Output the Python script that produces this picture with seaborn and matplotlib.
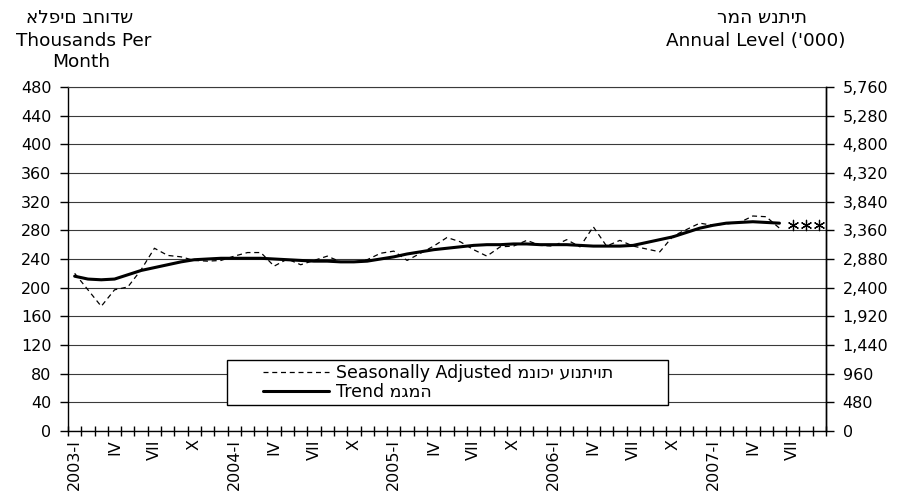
import numpy as np
import pandas as pd
import matplotlib
matplotlib.use("Agg")
import matplotlib.pyplot as plt
from matplotlib.legend_handler import HandlerLine2D
import seaborn as sns

# monthly data, Jan 2003 - Sep 2007 (thousands per month)
seasonally_adjusted = [220, 197, 174, 197, 201, 225, 255, 245, 243, 238,
                       237, 238, 244, 249, 249, 230, 240, 232, 238, 244,
                       236, 236, 239, 248, 251, 238, 248, 258, 270, 264,
                       253, 244, 257, 258, 266, 259, 258, 267, 257, 285,
                       258, 266, 258, 254, 250, 272, 281, 290, 287, 289,
                       291, 300, 299, 283]
trend = [216, 212, 211, 212, 218, 224, 228, 232, 236, 239,
         240, 241, 241, 241, 241, 240, 239, 238, 237, 237,
         236, 236, 237, 240, 243, 247, 250, 253, 255, 257,
         259, 260, 260, 261, 261, 260, 260, 260, 259, 258,
         258, 258, 259, 263, 267, 271, 277, 283, 287, 290,
         291, 292, 291, 290]
preliminary = [287, 288, 288]   # last three months, drawn as stars

n_months = 57
roman = ['I', 'II', 'III', 'IV', 'V', 'VI', 'VII', 'VIII', 'IX', 'X', 'XI', 'XII']
tick_idx = list(range(0, n_months, 3))
tick_labels = [f"{2003 + i // 12}-I" if i % 12 == 0 else roman[i % 12] for i in tick_idx]

left_ticks = list(range(0, 481, 40))
right_ticks = list(range(0, 5761, 480))

heb_left = "אלפים בחודש"
heb_right = "רמה שנתית"
heb_sa = "מנוכי עונתיות"
heb_trend = "מגמה"

sns.set_style("white", {"text.color": "black", "xtick.color": "black",
                        "ytick.color": "black", "axes.edgecolor": "black",
                        "axes.labelcolor": "black"})
plt.rcParams['font.family'] = ['DejaVu Sans']
fs = 11.5      # tick labels
fs_head = 13.3 # header texts
fs_leg = 12.5  # legend

df = pd.DataFrame({'pos': np.arange(len(trend)) + 0.5,
                   'sa': seasonally_adjusted, 'trend': trend})
df_pre = pd.DataFrame({'pos': np.arange(len(trend), len(trend) + len(preliminary)) + 0.5,
                       'value': preliminary})

fig = plt.figure(figsize=(9.09, 4.92), dpi=100)
ax = fig.add_axes([68 / 909, 1 - 431 / 492, 758 / 909, 344 / 492])

sns.lineplot(data=df, x='pos', y='sa', ax=ax, color='black', lw=0.9,
             linestyle=(0, (4, 3)), label="Seasonally Adjusted " + heb_sa)
sns.lineplot(data=df, x='pos', y='trend', ax=ax, color='black', lw=2.2,
             label="Trend " + heb_trend)
sns.scatterplot(data=df_pre, x='pos', y='value', ax=ax, marker=(6, 2, 0),
                color='black', s=55, linewidth=0.9, legend=False, zorder=4)

ax.set_xlim(0, n_months)
ax.set_ylim(0, 480)
ax.set_xlabel("")
ax.set_ylabel("")
ax.set_yticks(left_ticks)
ax.set_yticklabels([str(v) for v in left_ticks], fontsize=fs)
ax.yaxis.grid(True, color='#3a3a3a', lw=0.8)
ax.set_axisbelow(True)

ax.set_xticks(np.arange(0, n_months + 1))
ax.set_xticklabels([])
ax.set_xticks([i + 0.5 for i in tick_idx], tick_labels, minor=True)
ax.tick_params(axis='x', which='major', bottom=True, direction='inout', length=7, width=1)
ax.tick_params(axis='x', which='minor', bottom=True, length=0, pad=6,
               labelsize=fs, labelrotation=90)
ax.tick_params(axis='y', left=True, direction='out', length=6, width=1, pad=6)

for s in ['left', 'bottom', 'right']:
    ax.spines[s].set_color('black')
    ax.spines[s].set_linewidth(1.0)
ax.spines['top'].set_color('#3a3a3a')
ax.spines['top'].set_linewidth(0.8)

ax2 = ax.twinx()
ax2.set_ylim(0, 5760)
ax2.set_yticks(right_ticks)
ax2.set_yticklabels([f"{v:,}" for v in right_ticks], fontsize=fs)
ax2.tick_params(axis='y', right=True, direction='out', length=6, width=1, pad=6)
for s in ['top', 'left', 'bottom']:
    ax2.spines[s].set_visible(False)
ax2.spines['right'].set_color('black')
ax2.spines['right'].set_linewidth(1.0)

# legend box spans x 227..668, y 361..404 px in the reference
handles, labels = ax.get_legend_handles_labels()
leg = ax.legend(handles, labels, loc='center', mode='expand',
                bbox_to_anchor=(159 / 758, 27 / 344, 441 / 758, 43 / 344),
                fontsize=fs_leg, frameon=True, fancybox=False, shadow=False,
                framealpha=1, edgecolor='black', handlelength=5.6,
                handletextpad=0.4, labelspacing=0.05, borderpad=0.25,
                borderaxespad=0,
                handler_map={h: HandlerLine2D(xpad=1.85) for h in handles})
leg.get_frame().set_linewidth(1.0)

# header texts
fig.text(80 / 909, 1 - 18 / 492, heb_left, ha='center', va='center', fontsize=fs_head)
fig.text(84 / 909, 1 - 41 / 492, "Thousands Per", ha='center', va='center', fontsize=fs_head)
fig.text(81 / 909, 1 - 62 / 492, "Month", ha='center', va='center', fontsize=fs_head)
fig.text(762 / 909, 1 - 18 / 492, heb_right, ha='center', va='center', fontsize=fs_head)
fig.text(756 / 909, 1 - 41 / 492, "Annual Level ('000)", ha='center', va='center', fontsize=fs_head)

fig.savefig("out.png", dpi=100)
